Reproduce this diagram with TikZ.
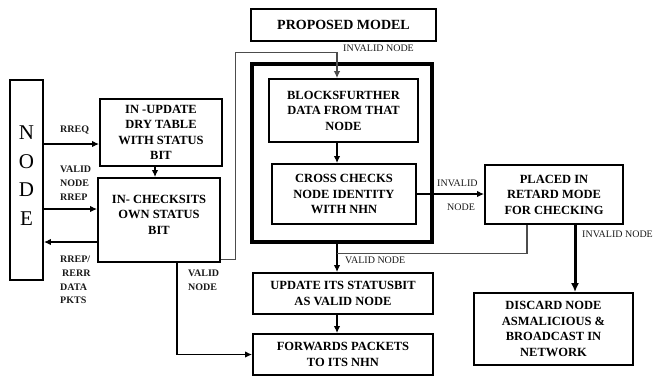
\documentclass[tikz,border=0pt]{standalone}
\usepackage{fontspec}
\setmainfont{Liberation Serif}
\usetikzlibrary{arrows.meta}

\begin{document}
\begin{tikzpicture}[x=1pt,y=-1pt,>={Latex[length=7pt,width=6.5pt]},
  box/.style={draw,line width=1.8pt,align=center,inner sep=2pt,font=\bfseries\fontsize{12.5}{15.5}\selectfont},
  lbl/.style={font=\fontsize{10}{13}\selectfont,text=black!90,inner sep=0pt,anchor=west,align=left},
  blbl/.style={lbl,font=\bfseries\fontsize{10}{13.7}\selectfont},
  flow/.style={->,line width=1.5pt},
  link/.style={line width=1.1pt,black!70}]
\useasboundingbox (0,0) rectangle (660,378);
% boxes
\node[draw,line width=1.8pt,minimum width=33pt,minimum height=200pt,inner sep=0pt,align=center,text depth=9pt,
  font=\fontsize{21}{28.5}\selectfont] (nodebox) at (26.5,180) {N\\O\\D\\E};
\node[box,minimum width=122pt,minimum height=67pt] (update) at (161,132.5) {IN -UPDATE\\DRY TABLE\\WITH STATUS\\BIT};
\node[box,minimum width=122pt,minimum height=84pt,text depth=11pt] (checks) at (159,220) {IN- CHECKSITS\\OWN STATUS\\BIT};
\node[box,minimum width=185pt,minimum height=32pt,font=\bfseries\fontsize{14}{16}\selectfont] (title) at (343.5,25) {PROPOSED MODEL};
\node[draw,line width=3.5pt,minimum width=180pt,minimum height=178pt] (frame) at (342,153) {};
\node[box,minimum width=149pt,minimum height=63pt] (blocks) at (343.5,110.5) {BLOCKSFURTHER\\DATA FROM THAT\\NODE};
\node[box,minimum width=144pt,minimum height=60pt] (cross) at (344,194) {CROSS CHECKS\\NODE IDENTITY\\WITH NHN};
\node[box,minimum width=138pt,minimum height=59pt] (placed) at (554,194.5) {PLACED IN\\RETARD MODE\\FOR CHECKING};
\node[box,minimum width=180pt,minimum height=41pt] (status) at (343,293.5) {UPDATE ITS STATUSBIT\\AS VALID NODE};
\node[box,minimum width=180pt,minimum height=41pt] (forward) at (343,354.5) {FORWARDS PACKETS\\TO ITS NHN};
\node[box,minimum width=159pt,minimum height=72pt] (discard) at (553.5,329) {DISCARD NODE\\ASMALICIOUS \&\\BROADCAST IN\\NETWORK};
% left side
\coordinate (rreq) at ([yshift=-11.5pt]update.west);
\coordinate (rrep) at ([yshift=11pt]checks.west);
\coordinate (reply) at ([yshift=-22pt]checks.west);
\draw[flow] (nodebox.east |- rreq) -- (rreq);
\draw[flow] (nodebox.east |- rrep) -- (rrep);
\draw[flow] (reply) -- (nodebox.east |- reply);
\draw[flow] ([xshift=-6pt]update.south) -- ([xshift=-6pt]update.south |- checks.north);
% into the model
\coordinate (spine) at ([xshift=-6.5pt]blocks.north);
\draw[link,->] ([yshift=3pt]checks.south east) -- ++(15,0) |- ([yshift=26pt]spine) -- (spine);
\draw[flow] (spine |- blocks.south) -- (spine |- cross.north);
\draw[flow] (cross.east) -- (cross.east -| placed.west);
\draw[flow] (spine |- frame.south) -- (spine |- status.north);
\draw[flow] (spine |- status.south) -- (spine |- forward.north);
\path (spine |- frame.south) ++(0,10) coordinate (join);
\draw[link] ([xshift=-27pt]placed.south) |- (join);
\draw[->,line width=3pt,>={Latex[length=9pt,width=8pt]}] ([xshift=21pt]placed.south) -- ([xshift=21pt]placed.south |- discard.north);
\draw[flow] ([xshift=18pt]checks.south) |- (forward.west);
% labels
\node[blbl] (lrreq) at (60,130) {RREQ};
\node[blbl] (lrrep) at (60,183) {VALID\\NODE\\RREP};
\node[blbl] (lreply) at (60,280) {RREP/\\\hspace{2pt}RERR\\DATA\\PKTS};
\node[blbl] (lvalid) at (188,280) {VALID\\NODE};
\node[lbl] (ltop) at (343,48) {INVALID NODE};
\node[lbl] (linv) at (437,183) {INVALID};
\node[lbl] (lnode) at (447,207) {NODE};
\node[lbl] (lvalidb) at (345,260) {VALID NODE};
\node[lbl] (ldisc) at (582,234) {INVALID NODE};
\end{tikzpicture}
\end{document}
